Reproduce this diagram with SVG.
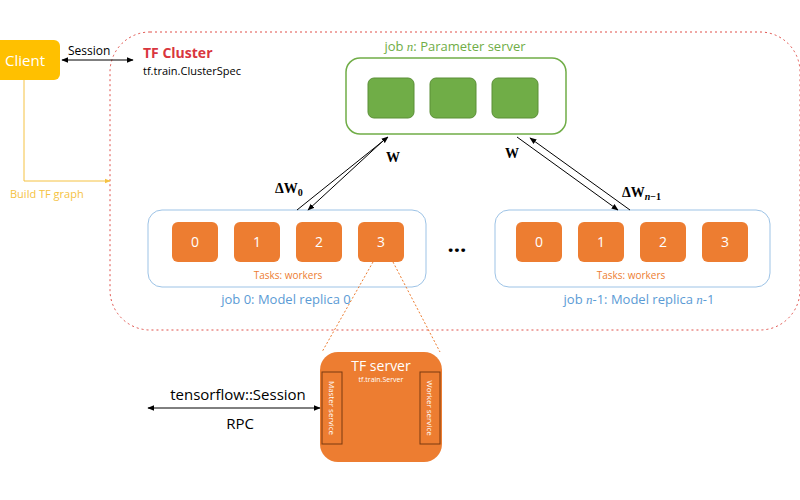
<svg xmlns="http://www.w3.org/2000/svg" width="800" height="500" viewBox="0 0 800 500">
<defs>
<style>
text{font-family:"Open Sans","Liberation Sans",sans-serif}
.m{font-family:"Liberation Serif","DejaVu Serif",serif;font-weight:bold;font-size:14px;fill:#000}
.i{font-family:"Liberation Serif",serif;font-style:italic}
.t{fill:#ed7d31;stroke:none}
.tl{fill:#fff;font-size:14px;text-anchor:middle}
.ps{fill:#70ad47;stroke:#5a8f36;stroke-width:1}
.ln{stroke:#000;stroke-width:1;fill:none}
</style>
<marker id="a" viewBox="0 0 10 10" refX="9" refY="5" markerWidth="7" markerHeight="7" orient="auto-start-reverse"><path d="M0,1L10,5L0,9z" fill="#000"/></marker>
<marker id="y" viewBox="0 0 10 10" refX="9" refY="5" markerWidth="6" markerHeight="6" orient="auto"><path d="M0,1L10,5L0,9z" fill="#f5c242"/></marker>
</defs>
<rect width="800" height="500" fill="#fff"/>
<g id="cluster">
<rect x="110" y="32" width="690" height="298" rx="40" fill="none" stroke="#e0504a" stroke-dasharray="2,3"/>
<text x="143" y="58" font-size="14" font-weight="bold" fill="#d9363e">TF Cluster</text>
<text x="143" y="75" font-size="11" fill="#000">tf.train.ClusterSpec</text>
</g>
<g id="client">
<rect x="-10" y="40" width="70" height="40" rx="6" fill="#ffc000"/>
<text x="25" y="66" font-size="15" fill="#fff" text-anchor="middle">Client</text>
<text x="10" y="198" font-size="11" fill="#f5c242">Build TF graph</text>
</g>
<g id="ps">
<rect x="346" y="58" width="220" height="76" rx="14" fill="#fff" stroke="#70ad47" stroke-width="1.5"/>
<text x="455" y="51" font-size="13" fill="#70ad47" text-anchor="middle">job <tspan class="i">n</tspan>: Parameter server</text>
<rect class="ps" x="368" y="78" width="46" height="40" rx="6"/>
<rect class="ps" x="430" y="78" width="46" height="40" rx="6"/>
<rect class="ps" x="492" y="78" width="46" height="40" rx="6"/>
</g>
<g id="replica0">
<rect x="148" y="210" width="278" height="77" rx="14" fill="#fff" stroke="#9dc3e6"/>
<rect class="t" x="172" y="222" width="46" height="40" rx="6"/><text class="tl" x="195" y="247">0</text>
<rect class="t" x="234" y="222" width="46" height="40" rx="6"/><text class="tl" x="257" y="247">1</text>
<rect class="t" x="296" y="222" width="46" height="40" rx="6"/><text class="tl" x="319" y="247">2</text>
<rect class="t" x="358" y="222" width="46" height="40" rx="6"/><text class="tl" x="381" y="247">3</text>
<text x="288" y="279" font-size="10" fill="#ed7d31" text-anchor="middle">Tasks: workers</text>
<text x="286" y="304" font-size="13" fill="#5b9bd5" text-anchor="middle">job 0: Model replica 0</text>
</g>
<text id="dots" x="457" y="252" font-size="22" font-weight="bold" text-anchor="middle" fill="#000">…</text>
<g id="replicaN">
<rect x="495" y="210" width="275" height="77" rx="14" fill="#fff" stroke="#9dc3e6"/>
<rect class="t" x="516" y="222" width="46" height="40" rx="6"/><text class="tl" x="539" y="247">0</text>
<rect class="t" x="578" y="222" width="46" height="40" rx="6"/><text class="tl" x="601" y="247">1</text>
<rect class="t" x="640" y="222" width="46" height="40" rx="6"/><text class="tl" x="663" y="247">2</text>
<rect class="t" x="702" y="222" width="46" height="40" rx="6"/><text class="tl" x="725" y="247">3</text>
<text x="631" y="279" font-size="10" fill="#ed7d31" text-anchor="middle">Tasks: workers</text>
<text x="639" y="304" font-size="13" fill="#5b9bd5" text-anchor="middle">job <tspan class="i">n</tspan>-1: Model replica <tspan class="i">n</tspan>-1</text>
</g>
<g id="server">
<rect x="320" y="352" width="122" height="110" rx="18" fill="#ed7d31"/>
<text x="381" y="371" font-size="14" fill="#fff" text-anchor="middle">TF server</text>
<text x="381" y="382" font-size="7" fill="#fff" text-anchor="middle">tf.train.Server</text>
<rect x="322" y="372" width="20" height="72" fill="none" stroke="#7a3a10"/>
<rect x="420" y="372" width="20" height="72" fill="none" stroke="#7a3a10"/>
<text transform="translate(329,408) rotate(90)" font-size="8" fill="#fff" text-anchor="middle">Master service</text>
<text transform="translate(427,408) rotate(90)" font-size="8" fill="#fff" text-anchor="middle">Worker service</text>
</g>
<g id="connectors">
<line class="ln" x1="62" y1="60" x2="133" y2="60" marker-start="url(#a)" marker-end="url(#a)"/>
<text x="68" y="55" font-size="12" fill="#000">Session</text>
<polyline points="24,80 24,181 110,181" fill="none" stroke="#f5c242" marker-end="url(#y)"/>
<line class="ln" x1="297" y1="210" x2="388" y2="137" marker-end="url(#a)"/>
<line class="ln" x1="384" y1="140" x2="308" y2="210" marker-end="url(#a)"/>
<line class="ln" x1="517" y1="137" x2="618" y2="210" marker-end="url(#a)"/>
<line class="ln" x1="630" y1="210" x2="530" y2="138" marker-end="url(#a)"/>
<text class="m" x="386" y="162">W</text>
<text class="m" x="505" y="158">W</text>
<text class="m" x="275" y="193">ΔW<tspan font-size="10" dy="3">0</tspan></text>
<text class="m" x="622" y="197">ΔW<tspan font-size="10" dy="3" font-style="italic">n</tspan><tspan font-size="10">−1</tspan></text>
<line x1="373" y1="262" x2="322" y2="352" stroke="#ed7d31" stroke-dasharray="2,2"/>
<line x1="393" y1="262" x2="440" y2="352" stroke="#ed7d31" stroke-dasharray="2,2"/>
<line class="ln" x1="148" y1="408" x2="320" y2="408" marker-start="url(#a)" marker-end="url(#a)"/>
<text x="238" y="400" font-size="15" text-anchor="middle" fill="#000">tensorflow::Session</text>
<text x="240" y="429" font-size="15" text-anchor="middle" fill="#000">RPC</text>
</g>
</svg>
